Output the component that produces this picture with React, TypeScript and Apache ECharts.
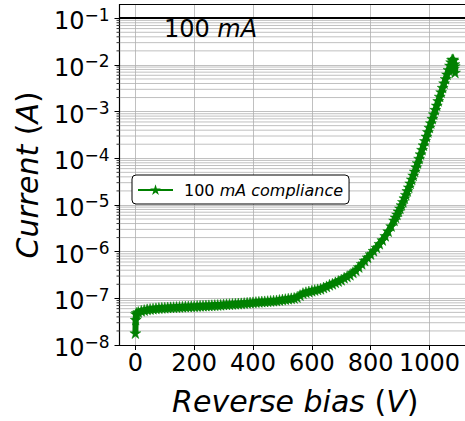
import React, { useEffect, useRef } from 'react';
import * as echarts from 'echarts';

// ---------------- data ----------------
const voltage = [
  0, 1, 2, 5, 10, 20, 30, 40, 50, 60, 70, 80, 90, 100, 110, 120, 130, 140, 150, 160, 170, 180, 190,
  200, 210, 220, 230, 240, 250, 260, 270, 280, 290, 300, 310, 320, 330, 340, 350, 360, 370, 380, 390,
  400, 410, 420, 430, 440, 450, 460, 470, 480, 490, 500, 510, 520, 530, 540, 550, 560, 570, 580, 590,
  600, 610, 620, 630, 640, 650, 660, 670, 680, 690, 700, 710, 720, 730, 740, 750, 760, 770, 780, 790,
  800, 810, 820, 830, 840, 850, 860, 870, 880, 885, 890, 895, 900, 905, 910, 915, 920, 925, 930, 935,
  940, 945, 950, 955, 960, 965, 970, 975, 980, 985, 990, 995, 1000, 1005, 1010, 1015, 1020, 1025, 1030,
  1035, 1040, 1045, 1050, 1055, 1060, 1065, 1070, 1074, 1077, 1080, 1082, 1085, 1083, 1087, 1086,
];
const current = [
  1.8e-8, 3.5e-8, 4.6e-8, 4.9e-8, 5.1e-8, 5.4e-8, 5.6e-8, 5.8e-8, 5.9e-8, 6.0e-8, 6.1e-8, 6.2e-8, 6.25e-8,
  6.3e-8, 6.35e-8, 6.4e-8, 6.45e-8, 6.5e-8, 6.55e-8, 6.6e-8, 6.65e-8, 6.7e-8, 6.75e-8,
  6.8e-8, 6.85e-8, 6.9e-8, 6.95e-8, 7.0e-8, 7.05e-8, 7.1e-8, 7.15e-8, 7.2e-8, 7.25e-8, 7.4e-8, 7.45e-8,
  7.5e-8, 7.6e-8, 7.65e-8, 7.7e-8, 7.8e-8, 7.9e-8, 8.0e-8, 8.1e-8,
  8.2e-8, 8.3e-8, 8.4e-8, 8.5e-8, 8.6e-8, 8.7e-8, 8.8e-8, 8.9e-8, 9.0e-8, 9.2e-8, 9.4e-8, 9.6e-8, 9.8e-8,
  1.0e-7, 1.02e-7, 1.06e-7, 1.17e-7, 1.29e-7, 1.35e-7, 1.4e-7,
  1.45e-7, 1.5e-7, 1.55e-7, 1.6e-7, 1.7e-7, 1.8e-7, 1.95e-7, 2.05e-7, 2.2e-7, 2.35e-7, 2.5e-7, 2.75e-7,
  2.95e-7, 3.2e-7, 3.6e-7, 4.0e-7, 4.7e-7, 5.5e-7, 6.46e-7, 7.59e-7,
  8.91e-7, 1.05e-6, 1.23e-6, 1.48e-6, 1.78e-6, 2.19e-6, 2.75e-6, 3.55e-6, 4.68e-6, 5.43e-6, 6.31e-6, 7.33e-6,
  8.51e-6, 1.0e-5, 1.17e-5, 1.4e-5, 1.66e-5, 2.0e-5, 2.4e-5, 2.92e-5,
  3.55e-5, 4.32e-5, 5.25e-5, 6.46e-5, 7.94e-5, 9.89e-5, 1.23e-4, 1.53e-4, 1.91e-4, 2.37e-4, 2.95e-4, 3.67e-4,
  4.57e-4, 5.69e-4, 7.08e-4, 8.81e-4, 1.1e-3, 1.36e-3, 1.7e-3,
  2.11e-3, 2.63e-3, 3.27e-3, 4.07e-3, 5.07e-3, 6.31e-3, 7.85e-3, 9.77e-3, 1.15e-2, 1.29e-2, 1.32e-2, 1.26e-2,
  1.05e-2, 8.3e-3, 6.9e-3, 9.5e-3,
];
const seriesName = '100 mA compliance';
const complianceCurrent = 0.1;
const xTicks = [0, 200, 400, 600, 800, 1000];
const yDecades = [-8, -7, -6, -5, -4, -3, -2, -1];
const minorMultipliers = [2, 3, 4, 5, 6, 7, 8, 9];
const xRange = [-54, 1121];
const yRange = [-8, -0.71];
const annotationAt = [97, -1.24];

// ---------------- helpers ----------------
const FONT = 'DejaVu Sans';
const STAR =
  'path://M0,-10 L2.245,-3.09 L9.511,-3.09 L3.633,1.18 L5.878,8.09 L0,3.82 L-5.878,8.09 L-3.633,1.18 L-9.511,-3.09 L-2.245,-3.09 Z';
const GREEN = '#008000';

export default function App() {
  const ref = useRef<HTMLDivElement>(null);

  useEffect(() => {
    if (!ref.current) return;
    const chart = echarts.init(ref.current, undefined, { renderer: 'svg' });

    const mainData = voltage.map((v, i) => [v, Math.log10(current[i])]);
    const minorData: number[][] = [];
    yDecades.forEach((d) => {
      minorMultipliers.forEach((m) => {
        const val = d + Math.log10(m);
        if (val <= yRange[1]) minorData.push([0, val]);
      });
    });

    const option: any = {
      animation: false,
      textStyle: { fontFamily: FONT },
      grid: { left: 119.5, top: 4.7, right: 0, bottom: 73.7, containLabel: false },
      legend: {
        data: [seriesName],
        left: 132,
        top: 175,
        orient: 'horizontal',
        padding: [7, 6, 6, 5],
        itemWidth: 35,
        itemHeight: 6,
        backgroundColor: '#fff',
        borderColor: '#000',
        borderWidth: 1,
        borderRadius: 4,
        selectedMode: false,
        lineStyle: { width: 2, color: GREEN },
        formatter: () => '{sp|}{n|100 }{i|mA compliance}',
        textStyle: {
          color: '#000',
          fontFamily: FONT,
          fontSize: 16,
          rich: {
            sp: { width: 6 },
            n: { fontSize: 16, fontFamily: FONT, color: '#000' },
            i: { fontSize: 16, fontFamily: FONT, fontStyle: 'italic', color: '#000' },
          },
        },
      },
      xAxis: [
        {
          type: 'value',
          min: xRange[0],
          max: xRange[1],
          name: '{i|Reverse bias }{p|(}{i|V}{p|)}',
          nameLocation: 'middle',
          nameGap: 41,
          nameTextStyle: {
            padding: [0, 0, 0, 6],
            rich: {
              i: { fontSize: 30, fontFamily: FONT, fontStyle: 'italic', color: '#000' },
              p: { fontSize: 30, fontFamily: FONT, color: '#000' },
            },
          },
          axisLine: { onZero: false, lineStyle: { color: '#000', width: 1.2 } },
          axisTick: { show: true, inside: false, length: 5, customValues: xTicks, lineStyle: { color: '#000', width: 1 } },
          axisLabel: {
            customValues: xTicks,
            formatter: (v: number) => `${v}`,
            color: '#000',
            fontSize: 24,
            fontFamily: FONT,
            margin: 6,
          },
          splitLine: { show: true, lineStyle: { color: '#b0b0b0', width: 0.8 } },
        },
        {
          type: 'value',
          position: 'top',
          min: xRange[0],
          max: xRange[1],
          axisLine: { show: true, onZero: false, lineStyle: { color: '#000', width: 1.2 } },
          axisTick: { show: false },
          axisLabel: { show: false },
          splitLine: { show: false },
        },
      ],
      yAxis: {
        type: 'value',
        min: yRange[0],
        max: yRange[1],
        name: '{i|Current }{p|(}{i|A}{p|)}',
        nameLocation: 'middle',
        nameGap: 77,
        nameTextStyle: {
          rich: {
            i: { fontSize: 30, fontFamily: FONT, fontStyle: 'italic', color: '#000' },
            p: { fontSize: 30, fontFamily: FONT, color: '#000' },
          },
        },
        axisLine: { show: true, onZero: false, lineStyle: { color: '#000', width: 1.2 } },
        axisTick: { show: true, inside: false, length: 5, customValues: yDecades, lineStyle: { color: '#000', width: 1 } },
        axisLabel: {
          customValues: yDecades,
          margin: 10,
          padding: [6, 0, 0, 0],
          formatter: (v: number) => `{b|10}{s|\u2212${Math.round(-v)}}`,
          rich: {
            b: { fontSize: 24, lineHeight: 30, fontFamily: FONT, color: '#000' },
            s: { fontSize: 17, lineHeight: 20, fontFamily: FONT, color: '#000', verticalAlign: 'top' },
          },
        },
        splitLine: { show: true, lineStyle: { color: '#b0b0b0', width: 0.8 } },
      },
      series: [
        {
          type: 'custom',
          name: 'minor',
          z: 1,
          clip: false,
          silent: true,
          data: minorData,
          encode: { x: 0, y: 1 },
          renderItem: (params: any, api: any) => {
            const y = api.coord([0, api.value(1)])[1];
            const cs = params.coordSys;
            return {
              type: 'group',
              children: [
                {
                  type: 'line',
                  shape: { x1: cs.x, y1: y, x2: cs.x + cs.width, y2: y },
                  style: { stroke: '#b0b0b0', lineWidth: 0.8 },
                },
                {
                  type: 'line',
                  shape: { x1: cs.x - 3, y1: y, x2: cs.x, y2: y },
                  style: { stroke: '#000', lineWidth: 0.8 },
                },
              ],
            };
          },
        },
        {
          type: 'line',
          name: seriesName,
          z: 3,
          data: mainData,
          symbol: STAR,
          symbolSize: 11,
          showAllSymbol: true,
          itemStyle: { color: GREEN, borderColor: GREEN, borderWidth: 0.5 },
          lineStyle: { color: GREEN, width: 6 },
          emphasis: { disabled: true },
          markLine: {
            silent: true,
            symbol: ['none', 'none'],
            label: { show: false },
            lineStyle: { color: '#000', width: 2, type: 'solid' },
            emphasis: { disabled: true },
            data: [{ yAxis: Math.log10(complianceCurrent) }],
          },
          markPoint: {
            silent: true,
            symbol: 'circle',
            symbolSize: 0,
            label: {
              show: true,
              position: 'right',
              distance: 0,
              formatter: () => '{n|100 }{i|mA}',
              rich: {
                n: { fontSize: 24, fontFamily: FONT, color: '#000' },
                i: { fontSize: 24, fontFamily: FONT, fontStyle: 'italic', color: '#000' },
              },
            },
            data: [{ coord: annotationAt }],
          },
        },
      ],
    };

    chart.setOption(option);
    return () => chart.dispose();
  }, []);

  return (
    <div
      ref={ref}
      style={{ position: 'fixed', left: 0, top: 0, width: 465, height: 421, background: '#fff' }}
    />
  );
}
